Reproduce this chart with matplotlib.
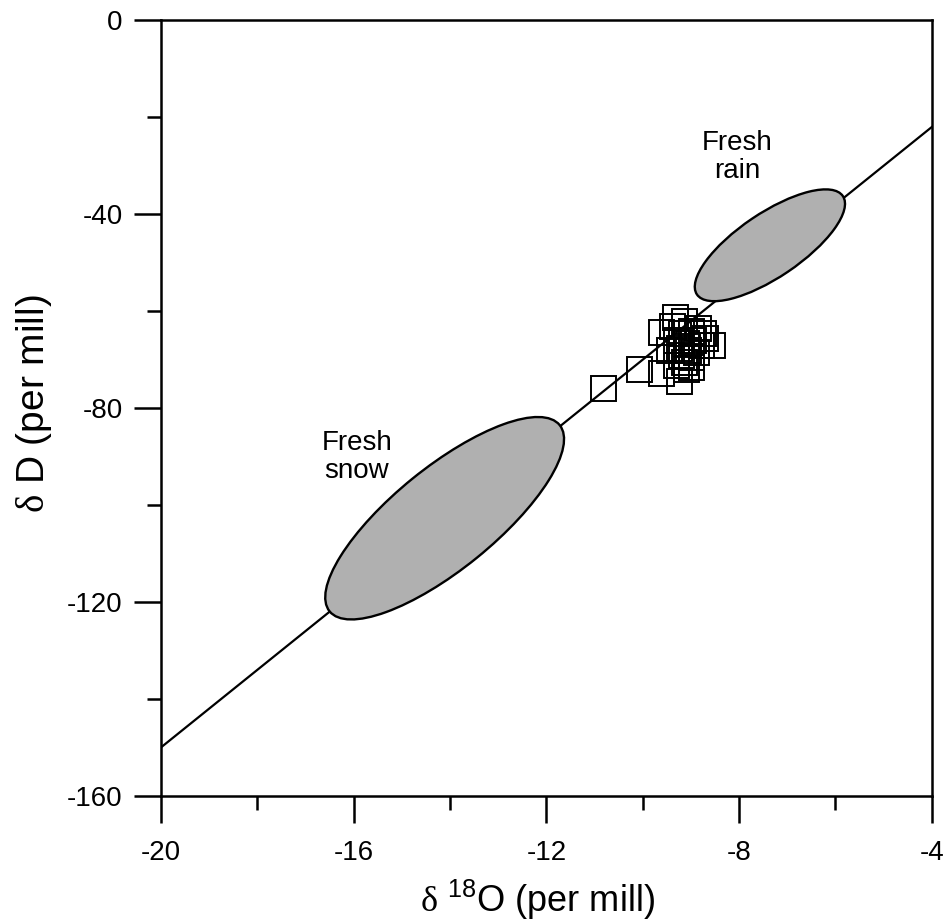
import matplotlib
matplotlib.use("Agg")
import matplotlib.pyplot as plt
import numpy as np
from matplotlib.patches import Ellipse
from matplotlib.transforms import ScaledTranslation

plt.rcParams['font.family'] = ['Liberation Sans', 'DejaVu Sans']
plt.rcParams['mathtext.fontset'] = 'custom'
plt.rcParams['mathtext.rm'] = 'Liberation Sans'
plt.rcParams['mathtext.tt'] = 'Liberation Serif'  # upright serif delta
plt.rcParams['axes.unicode_minus'] = False

# water samples (per mill)
d18o = [-10.82, -10.07, -9.62, -9.25, -9.62, -8.56, -9.33, -9.15,
        -9.40, -9.20, -9.00, -8.85, -9.30, -9.10, -8.95, -9.25,
        -9.05, -8.80, -8.70, -9.20, -9.00, -9.15, -9.30, -9.10,
        -8.90, -9.45, -8.75, -9.00]
dD = [-75.9, -72.0, -72.8, -74.3, -64.2, -66.9, -61.2, -62.0,
      -63.0, -64.5, -64.0, -63.5, -66.0, -66.5, -66.0, -67.5,
      -68.0, -67.0, -65.5, -69.0, -69.5, -70.5, -71.0, -72.0,
      -68.5, -68.0, -64.5, -71.5]

# meteoric water line dD = 8 d18O + 10
mwl_slope = 8.0
mwl_icept = 10.0
mwl_x = [-20, -4]

# precipitation fields
field_names = ['Fresh\nsnow', 'Fresh\nrain']
field_x = [-14.11, -7.36]
field_y = [-102.7, -46.4]
label_x = [-15.93, -8.04]
label_y = [-90.0, -28.2]

xticks = [-20, -16, -12, -8, -4]
yticks = [0, -40, -80, -120, -160]

DPI = 100
fig = plt.figure(figsize=(9.46, 9.24), dpi=DPI)
ax = fig.add_axes([0.170, 0.1385, 0.815, 0.8395])
ax.set_xlim(-20, -4)
ax.set_ylim(-160, 0)

ax.plot(d18o, dD, 's', ms=18, mfc='none', mec='black', mew=1.4, zorder=2)

lx = np.array(mwl_x, dtype=float)
ax.plot(lx, mwl_slope * lx + mwl_icept, color='black', lw=1.6, zorder=3)

# ellipse sizes in pixels (semi axes) and tilt
ell_a = [148, 88]
ell_b = [51, 32]
ell_ang = [39, 34]
for cx, cy, a, b, ang in zip(field_x, field_y, ell_a, ell_b, ell_ang):
    tr = fig.dpi_scale_trans + ScaledTranslation(cx, cy, ax.transData)
    e = Ellipse((0, 0), 2 * a / DPI, 2 * b / DPI, angle=ang, transform=tr,
                facecolor='#b0b0b0', edgecolor='black', lw=1.7, zorder=4)
    ax.add_patch(e)

for name, tx, ty in zip(field_names, label_x, label_y):
    ax.text(tx, ty, name, ha='center', va='center', fontsize=20,
            linespacing=1.1, zorder=5)

ax.set_xticks(xticks)
ax.set_yticks(yticks)
ax.set_xticks([-18, -14, -10, -6], minor=True)
ax.set_yticks([-20, -60, -100, -140], minor=True)
ax.tick_params(which='both', direction='out', width=1.8, top=False, right=False)
ax.tick_params(which='major', length=19.5)
ax.tick_params(which='minor', length=10)
ax.tick_params(axis='x', which='major', labelsize=20, pad=12)
ax.tick_params(axis='y', which='major', labelsize=20, pad=8)
for sp in ax.spines.values():
    sp.set_linewidth(1.8)

ax.set_xlabel(r'$\mathtt{\delta}$ $^{\mathregular{18}}$O (per mill)', fontsize=26)
ax.set_ylabel(r'$\mathtt{\delta}$ D (per mill)', fontsize=28)
ax.xaxis.set_label_coords(0.488, -0.106)
ax.yaxis.set_label_coords(-0.165, 0.506)
ax.yaxis.label.set_va('center')

fig.savefig('out.png', dpi=DPI)
